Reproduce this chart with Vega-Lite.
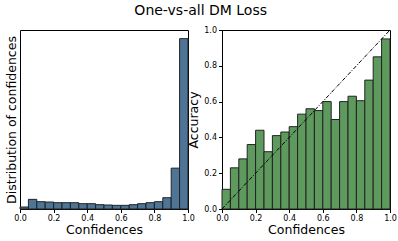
{
  "$schema": "https://vega.github.io/schema/vega-lite/v6.json",
  "padding": {"left": 4, "top": 3, "right": 10, "bottom": 2},
  "bounds": "flush",
  "spacing": 34,
  "title": {"text": "One-vs-all DM Loss", "fontSize": 14, "font": "DejaVu Sans", "fontWeight": "normal", "anchor": "middle", "offset": 8, "color": "black"},
  "config": {
    "font": "DejaVu Sans",
    "view": {"stroke": "black", "strokeWidth": 1},
    "axis": {"labelFont": "DejaVu Sans", "titleFont": "DejaVu Sans", "labelFontSize": 8, "titleFontSize": 12.5, "titleFontWeight": "normal", "labelColor": "black", "titleColor": "black", "domainColor": "black", "tickColor": "black", "tickSize": 3.5, "labelPadding": 2, "grid": false, "labelFlush": false, "labelOverlap": false}
  },
  "data": {"values": [
    {"lo": 0.00, "hi": 0.05, "count": 6, "acc": 0.11},
    {"lo": 0.05, "hi": 0.10, "count": 29, "acc": 0.23},
    {"lo": 0.10, "hi": 0.15, "count": 22, "acc": 0.28},
    {"lo": 0.15, "hi": 0.20, "count": 21, "acc": 0.36},
    {"lo": 0.20, "hi": 0.25, "count": 19, "acc": 0.44},
    {"lo": 0.25, "hi": 0.30, "count": 19, "acc": 0.32},
    {"lo": 0.30, "hi": 0.35, "count": 19, "acc": 0.41},
    {"lo": 0.35, "hi": 0.40, "count": 16, "acc": 0.43},
    {"lo": 0.40, "hi": 0.45, "count": 16, "acc": 0.46},
    {"lo": 0.45, "hi": 0.50, "count": 13, "acc": 0.53},
    {"lo": 0.50, "hi": 0.55, "count": 12, "acc": 0.56},
    {"lo": 0.55, "hi": 0.60, "count": 11, "acc": 0.55},
    {"lo": 0.60, "hi": 0.65, "count": 11, "acc": 0.60},
    {"lo": 0.65, "hi": 0.70, "count": 13, "acc": 0.50},
    {"lo": 0.70, "hi": 0.75, "count": 16, "acc": 0.60},
    {"lo": 0.75, "hi": 0.80, "count": 19, "acc": 0.63},
    {"lo": 0.80, "hi": 0.85, "count": 22, "acc": 0.605},
    {"lo": 0.85, "hi": 0.90, "count": 34, "acc": 0.72},
    {"lo": 0.90, "hi": 0.95, "count": 123, "acc": 0.85},
    {"lo": 0.95, "hi": 1.00, "count": 513, "acc": 0.95}
  ]},
  "hconcat": [
    {
      "width": 168,
      "height": 179,
      "mark": {"type": "bar", "color": "#4e7496", "stroke": "#222222", "strokeWidth": 1, "opacity": 1},
      "encoding": {
        "x": {"field": "lo", "type": "quantitative", "scale": {"domain": [0, 1], "nice": false}, "axis": {"title": "Confidences", "values": [0, 0.2, 0.4, 0.6, 0.8, 1.0], "format": ".1f", "titlePadding": 1}},
        "x2": {"field": "hi"},
        "y": {"field": "count", "type": "quantitative", "scale": {"domain": [0, 539], "nice": false}, "axis": {"title": "Distribution of confidences", "labels": false, "ticks": false, "domain": false, "titlePadding": 2}},
        "y2": {"datum": 0}
      }
    },
    {
      "width": 168,
      "height": 179,
      "encoding": {
        "x": {"type": "quantitative", "scale": {"domain": [0, 1], "nice": false}, "axis": {"title": "Confidences", "values": [0, 0.2, 0.4, 0.6, 0.8, 1.0], "format": ".1f", "titlePadding": 1}},
        "y": {"type": "quantitative", "scale": {"domain": [0, 1], "nice": false}, "axis": {"title": "Accuracy", "values": [0, 0.2, 0.4, 0.6, 0.8, 1.0], "format": ".1f", "titlePadding": 3}}
      },
      "layer": [
        {
          "mark": {"type": "bar", "color": "#5e9a5e", "stroke": "#222222", "strokeWidth": 1},
          "encoding": {
            "x": {"field": "lo", "type": "quantitative"},
            "x2": {"field": "hi"},
            "y": {"field": "acc", "type": "quantitative"},
            "y2": {"datum": 0}
          }
        },
        {
          "data": {"values": [{"cx": 0, "cy": 0}, {"cx": 1, "cy": 1}]},
          "mark": {"type": "line", "color": "black", "strokeWidth": 1, "strokeDash": [4, 1.5, 1, 1.5]},
          "encoding": {
            "x": {"field": "cx", "type": "quantitative"},
            "y": {"field": "cy", "type": "quantitative"}
          }
        }
      ]
    }
  ]
}
